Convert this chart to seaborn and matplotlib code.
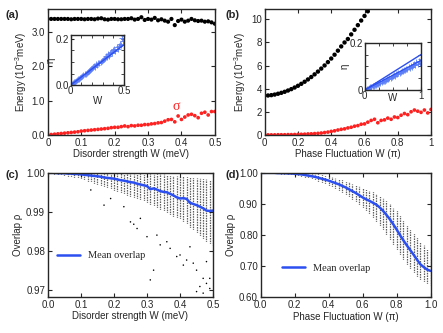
import numpy as np
import matplotlib
matplotlib.use("Agg")
import matplotlib.pyplot as plt
import seaborn as sns

# --- (a) disorder strength: energy and sigma ---
w_a = [round(0.01 * i, 2) for i in range(51)]
energy_a = [3.38, 3.38, 3.38, 3.38, 3.38, 3.38, 3.38, 3.37, 3.38, 3.38,
            3.38, 3.37, 3.38, 3.38, 3.37, 3.39, 3.40, 3.37, 3.36, 3.38,
            3.38, 3.37, 3.37, 3.38, 3.38, 3.40, 3.36, 3.38, 3.43, 3.35,
            3.38, 3.36, 3.41, 3.34, 3.37, 3.33, 3.30, 3.38, 3.20, 3.32,
            3.36, 3.30, 3.33, 3.38, 3.34, 3.32, 3.33, 3.30, 3.31, 3.28, 3.24]
sigma_a = [0.00, 0.01, 0.02, 0.03, 0.04, 0.05, 0.06, 0.07, 0.08, 0.09,
           0.11, 0.12, 0.13, 0.14, 0.15, 0.16, 0.17, 0.18, 0.19, 0.21,
           0.22, 0.22, 0.24, 0.26, 0.24, 0.27, 0.26, 0.28, 0.28, 0.30,
           0.30, 0.32, 0.33, 0.35, 0.36, 0.40, 0.44, 0.45, 0.38, 0.55,
           0.45, 0.52, 0.58, 0.60, 0.56, 0.50, 0.63, 0.66, 0.58, 0.68, 0.68]
# inset (a): eta vs W
eta_w_a = [round(0.01 * i, 2) for i in range(1, 51)]
eta_a = [0.004, 0.007, 0.011, 0.014, 0.018, 0.021, 0.025, 0.028, 0.031, 0.035,
         0.039, 0.042, 0.047, 0.050, 0.054, 0.058, 0.062, 0.066, 0.070, 0.074,
         0.078, 0.082, 0.079, 0.090, 0.088, 0.096, 0.094, 0.102, 0.106, 0.108,
         0.112, 0.116, 0.125, 0.120, 0.135, 0.128, 0.138, 0.145, 0.140, 0.150,
         0.156, 0.148, 0.165, 0.158, 0.170, 0.180, 0.175, 0.205, 0.190, 0.215]
fit_w_a = [0.0, 0.5]
fit_eta_a = [0.0, 0.175]

# --- (b) phase fluctuation: energy and sigma ---
w_b_energy = [round(0.02 * i, 2) for i in range(32)]
energy_b = [3.40, 3.41, 3.44, 3.49, 3.56, 3.64, 3.73, 3.84, 3.96, 4.10,
            4.25, 4.42, 4.60, 4.80, 5.01, 5.24, 5.48, 5.74, 6.01, 6.30,
            6.61, 6.94, 7.29, 7.66, 8.00, 8.30, 8.70, 9.10, 9.50, 9.90, 10.30, 10.70]
w_b = [round(0.02 * i, 2) for i in range(51)]
sigma_b = [0.00, 0.00, 0.00, 0.00, 0.01, 0.01, 0.01, 0.02, 0.02, 0.03,
           0.04, 0.05, 0.06, 0.08, 0.09, 0.11, 0.13, 0.16, 0.20, 0.24,
           0.30, 0.35, 0.42, 0.48, 0.52, 0.60, 0.66, 0.75, 0.80, 0.92,
           0.95, 1.10, 1.25, 1.35, 1.05, 1.25, 1.30, 1.45, 1.35, 1.55,
           1.50, 1.70, 1.85, 1.75, 2.00, 2.15, 2.05, 1.95, 2.15, 1.90, 2.20]
eta_w_b = [round(0.02 * i, 2) for i in range(1, 51)]
eta_b = [0.002, 0.005, 0.006, 0.010, 0.011, 0.014, 0.016, 0.017, 0.021, 0.022,
         0.025, 0.026, 0.030, 0.031, 0.035, 0.036, 0.039, 0.040, 0.044, 0.046,
         0.048, 0.052, 0.052, 0.057, 0.058, 0.062, 0.061, 0.066, 0.068, 0.071,
         0.071, 0.076, 0.079, 0.080, 0.085, 0.083, 0.090, 0.088, 0.096, 0.094,
         0.100, 0.098, 0.105, 0.110, 0.104, 0.118, 0.112, 0.122, 0.116, 0.130]
fit_w_b = [0.0, 1.0]
fit_eta_b_hi = [0.0, 0.150]
fit_eta_b_lo = [0.0, 0.125]

# --- (c) overlap vs disorder ---
mean_c = [1.0000, 1.0000, 1.0000, 0.9999, 0.9999, 0.9999, 0.9998, 0.9998, 0.9997, 0.9997,
          0.9996, 0.9995, 0.9994, 0.9993, 0.9992, 0.9991, 0.9990, 0.9988, 0.9987, 0.9986,
          0.9985, 0.9983, 0.9981, 0.9980, 0.9978, 0.9976, 0.9975, 0.9972, 0.9970, 0.9968,
          0.9966, 0.9958, 0.9960, 0.9957, 0.9953, 0.9951, 0.9950, 0.9946, 0.9942, 0.9937,
          0.9934, 0.9935, 0.9933, 0.9923, 0.9920, 0.9917, 0.9913, 0.9909, 0.9903, 0.9902, 0.9903]
col_w_c = w_a[1:]
col_lo_c = [0.9999, 0.9998, 0.9997, 0.9996, 0.9995, 0.9993, 0.9992, 0.9990, 0.9988, 0.9986,
            0.9983, 0.9980, 0.9978, 0.9975, 0.9972, 0.9969, 0.9966, 0.9963, 0.9960, 0.9956,
            0.9953, 0.9950, 0.9947, 0.9944, 0.9941, 0.9938, 0.9935, 0.9932, 0.9929, 0.9926,
            0.9920, 0.9917, 0.9912, 0.9908, 0.9904, 0.9900, 0.9895, 0.9890, 0.9887, 0.9884,
            0.9876, 0.9870, 0.9862, 0.9855, 0.9848, 0.9840, 0.9833, 0.9826, 0.9820, 0.9815]
col_hi_c = [1.0] * 20 + [0.9999, 0.9999, 0.9999, 0.9999, 0.9999, 0.9998, 0.9998, 0.9998, 0.9998, 0.9998,
                         0.9998, 0.9997, 0.9997, 0.9996, 0.9996, 0.9995, 0.9994, 0.9993, 0.9993, 0.9992,
                         0.9991, 0.9990, 0.9989, 0.9988, 0.9987, 0.9986, 0.9985, 0.9984, 0.9982, 0.9980]
out_w_c = [0.17, 0.25, 0.27, 0.30, 0.32, 0.34, 0.37, 0.39, 0.42, 0.44, 0.45, 0.47, 0.48, 0.49, 0.46,
           0.13, 0.19, 0.23, 0.26, 0.28, 0.31, 0.33, 0.36, 0.40, 0.41, 0.43, 0.45, 0.47, 0.48, 0.49]
out_c = [0.9917, 0.9874, 0.9857, 0.9836, 0.9750, 0.9815, 0.9806, 0.9785, 0.9776, 0.9768,
         0.9750, 0.9729, 0.9716, 0.9703, 0.9708,
         0.9956, 0.9934, 0.9913, 0.9868, 0.9883, 0.9725, 0.9840, 0.9823, 0.9789, 0.9763,
         0.9810, 0.9695, 0.9691, 0.9772, 0.9729]

# --- (d) overlap vs phase fluctuation ---
mean_d = [1.000, 1.000, 1.000, 1.000, 1.000, 0.999, 0.999, 0.999, 0.998, 0.998,
          0.997, 0.996, 0.995, 0.993, 0.991, 0.989, 0.987, 0.984, 0.981, 0.978,
          0.975, 0.971, 0.967, 0.963, 0.958, 0.953, 0.947, 0.941, 0.935, 0.928,
          0.921, 0.915, 0.910, 0.904, 0.898, 0.889, 0.878, 0.865, 0.851, 0.835,
          0.818, 0.800, 0.783, 0.767, 0.752, 0.737, 0.721, 0.706, 0.697, 0.689, 0.685]
col_w_d = w_b[1:]
col_lo_d = [0.9995, 0.999, 0.999, 0.998, 0.998, 0.997, 0.997, 0.996, 0.995, 0.994,
            0.992, 0.990, 0.988, 0.986, 0.982, 0.979, 0.975, 0.971, 0.966, 0.962,
            0.957, 0.951, 0.946, 0.940, 0.933, 0.925, 0.917, 0.909, 0.900, 0.890,
            0.880, 0.870, 0.858, 0.846, 0.832, 0.818, 0.803, 0.788, 0.772, 0.755,
            0.738, 0.722, 0.707, 0.694, 0.682, 0.670, 0.660, 0.652, 0.645, 0.640]
col_hi_d = [1.0, 1.0, 1.0, 1.0, 1.0, 1.0, 1.0, 1.0, 1.0, 1.0,
            0.999, 0.999, 0.998, 0.998, 0.997, 0.996, 0.995, 0.993, 0.991, 0.989,
            0.986, 0.983, 0.980, 0.977, 0.973, 0.969, 0.965, 0.961, 0.957, 0.952,
            0.947, 0.942, 0.937, 0.932, 0.926, 0.918, 0.909, 0.899, 0.888, 0.876,
            0.862, 0.848, 0.834, 0.820, 0.806, 0.792, 0.779, 0.767, 0.756, 0.748]

sns.set_style("ticks")
plt.rcParams['font.family'] = ['Liberation Sans', 'DejaVu Sans']
plt.rcParams['font.size'] = 7
plt.rcParams['mathtext.default'] = 'regular'
plt.rcParams['xtick.direction'] = 'in'
plt.rcParams['ytick.direction'] = 'in'
plt.rcParams['xtick.major.size'] = 3
plt.rcParams['ytick.major.size'] = 3
plt.rcParams['xtick.major.pad'] = 2
plt.rcParams['ytick.major.pad'] = 2
plt.rcParams['axes.linewidth'] = 1.0

fig = plt.figure(figsize=(4.43, 3.33), dpi=100)
ax_a = fig.add_axes([0.108, 0.595, 0.377, 0.378])
ax_b = fig.add_axes([0.5975, 0.595, 0.3755, 0.378])
ax_c = fig.add_axes([0.108, 0.108, 0.373, 0.373])
ax_d = fig.add_axes([0.5885, 0.107, 0.3835, 0.374])
ins_a = fig.add_axes([0.1596, 0.7447, 0.1203, 0.150])
ins_b = fig.add_axes([0.8233, 0.7297, 0.127, 0.142])

BLUE = '#2b4ff0'
LBLUE = '#5a7cf5'


def style(ax):
    ax.tick_params(top=True, right=True, which='both', labelsize=7)
    for s in ax.spines.values():
        s.set_visible(True)


# (a)
sns.scatterplot(x=w_a, y=energy_a, ax=ax_a, color='k', s=9, edgecolor='none')
sns.scatterplot(x=w_a, y=sigma_a, ax=ax_a, color='#ff2020', s=7, edgecolor='none')
ax_a.set_xlim(0, 0.5)
ax_a.set_ylim(0, 3.67)
ax_a.set_xticks([0, 0.1, 0.2, 0.3, 0.4, 0.5], ['0', '0.1', '0.2', '0.3', '0.4', '0.5'])
ax_a.set_yticks([0, 1, 2, 3], ['0.0', '1.0', '2.0', '3.0'])
ax_a.set_xlabel('Disorder strength W (meV)', labelpad=1)
ax_a.set_ylabel('Energy (10$^{-3}$meV)', labelpad=2)
ax_a.text(0.374, 0.72, 'σ', color='#ff2020', fontsize=10,
          family=['Liberation Serif', 'DejaVu Serif'])
style(ax_a)

sns.scatterplot(x=eta_w_a, y=eta_a, ax=ins_a, marker='+', color=LBLUE, s=14, linewidth=0.6)
sns.lineplot(x=fit_w_a, y=fit_eta_a, ax=ins_a, color=BLUE, linewidth=1.0)
ins_a.set_xlim(0, 0.5)
ins_a.set_ylim(0, 0.217)
ins_a.set_xticks([0, 0.5], ['0', '0.5'])
ins_a.set_xticks([0.1, 0.2, 0.3, 0.4], minor=True)
ins_a.set_yticks([0, 0.2], ['0.0', '0.2'])
ins_a.set_yticks([0.05, 0.1, 0.15], minor=True)
ins_a.set_xlabel('W', labelpad=0)
ins_a.set_ylabel('η', labelpad=0)
style(ins_a)
ins_a.tick_params(which='both', length=2.5, labelsize=7, pad=1)

# (b)
sns.scatterplot(x=w_b_energy, y=energy_b, ax=ax_b, color='k', s=10, edgecolor='none')
sns.scatterplot(x=w_b, y=sigma_b, ax=ax_b, color='#ff2020', s=7, edgecolor='none')
ax_b.set_xlim(0, 1)
ax_b.set_ylim(0, 10.9)
ax_b.set_xticks([0, 0.2, 0.4, 0.6, 0.8, 1.0], ['0', '0.2', '0.4', '0.6', '0.8', '1'])
ax_b.set_yticks([0, 2, 4, 6, 8, 10])
ax_b.set_xlabel('Phase Fluctuation W (π)', labelpad=1)
ax_b.set_ylabel('Energy (10$^{-3}$meV)', labelpad=2)
style(ax_b)

sns.scatterplot(x=eta_w_b, y=eta_b, ax=ins_b, marker='+', color=LBLUE, s=14, linewidth=0.6)
sns.lineplot(x=fit_w_b, y=fit_eta_b_hi, ax=ins_b, color=BLUE, linewidth=1.0)
sns.lineplot(x=fit_w_b, y=fit_eta_b_lo, ax=ins_b, color=BLUE, linewidth=0.8)
ins_b.set_xlim(0, 1)
ins_b.set_ylim(0, 0.2)
ins_b.set_xticks([0, 1], ['0', '1'])
ins_b.set_xticks([0.25, 0.5, 0.75], minor=True)
ins_b.set_yticks([0, 0.2], ['0', '0.2'])
ins_b.set_yticks([0.05, 0.1, 0.15], minor=True)
ins_b.set_xlabel('W', labelpad=-6)
ins_b.set_ylabel('η', labelpad=0)
style(ins_b)
ins_b.tick_params(which='both', length=2.5, labelsize=7, pad=1)

# (c)
ax_c.vlines(col_w_c, col_lo_c, col_hi_c, colors='k', linewidth=0.9,
            linestyles=(0, (0.5, 0.8)))
sns.scatterplot(x=out_w_c, y=out_c, ax=ax_c, color='k', s=1.2, edgecolor='none')
sns.lineplot(x=w_a, y=mean_c, ax=ax_c, color=BLUE, linewidth=1.8, label='Mean overlap')
ax_c.set_xlim(0, 0.5)
ax_c.set_ylim(0.9681, 1.0)
ax_c.set_xticks([0, 0.1, 0.2, 0.3, 0.4, 0.5], ['0.0', '0.1', '0.2', '0.3', '0.4', '0.5'])
ax_c.set_yticks([0.97, 0.98, 0.99, 1.0], ['0.97', '0.98', '0.99', '1.00'])
ax_c.set_xlabel('Disorder strength W (meV)', labelpad=1)
ax_c.set_ylabel('Overlap ρ', labelpad=2)
ax_c.legend(loc='lower left', bbox_to_anchor=(0.0, 0.22), frameon=False, handlelength=2.2,
            prop={'family': ['Liberation Serif', 'DejaVu Serif'], 'size': 7.5})
style(ax_c)

# (d)
ax_d.vlines(col_w_d, col_lo_d, col_hi_d, colors='k', linewidth=0.9,
            linestyles=(0, (0.5, 0.8)))
sns.lineplot(x=w_b, y=mean_d, ax=ax_d, color=BLUE, linewidth=1.8, label='Mean overlap')
ax_d.set_xlim(0, 1)
ax_d.set_ylim(0.6, 1.0)
ax_d.set_xticks([0, 0.2, 0.4, 0.6, 0.8, 1.0], ['0.0', '0.2', '0.4', '0.6', '0.8', '1.0'])
ax_d.set_yticks([0.6, 0.7, 0.8, 0.9, 1.0], ['0.60', '0.70', '0.80', '0.90', '1.00'])
ax_d.set_xlabel('Phase Fluctuation W (π)', labelpad=1)
ax_d.set_ylabel('Overlap ρ', labelpad=2)
ax_d.legend(loc='lower left', bbox_to_anchor=(0.07, 0.12), frameon=False, handlelength=2.2,
            prop={'family': ['Liberation Serif', 'DejaVu Serif'], 'size': 7.5})
style(ax_d)

for lab, x, y in [('(a)', 0.012, 0.945), ('(b)', 0.508, 0.945),
                  ('(c)', 0.012, 0.465), ('(d)', 0.508, 0.465)]:
    fig.text(x, y, lab, fontsize=8, fontweight='bold')

fig.savefig('out.png', dpi=100)
